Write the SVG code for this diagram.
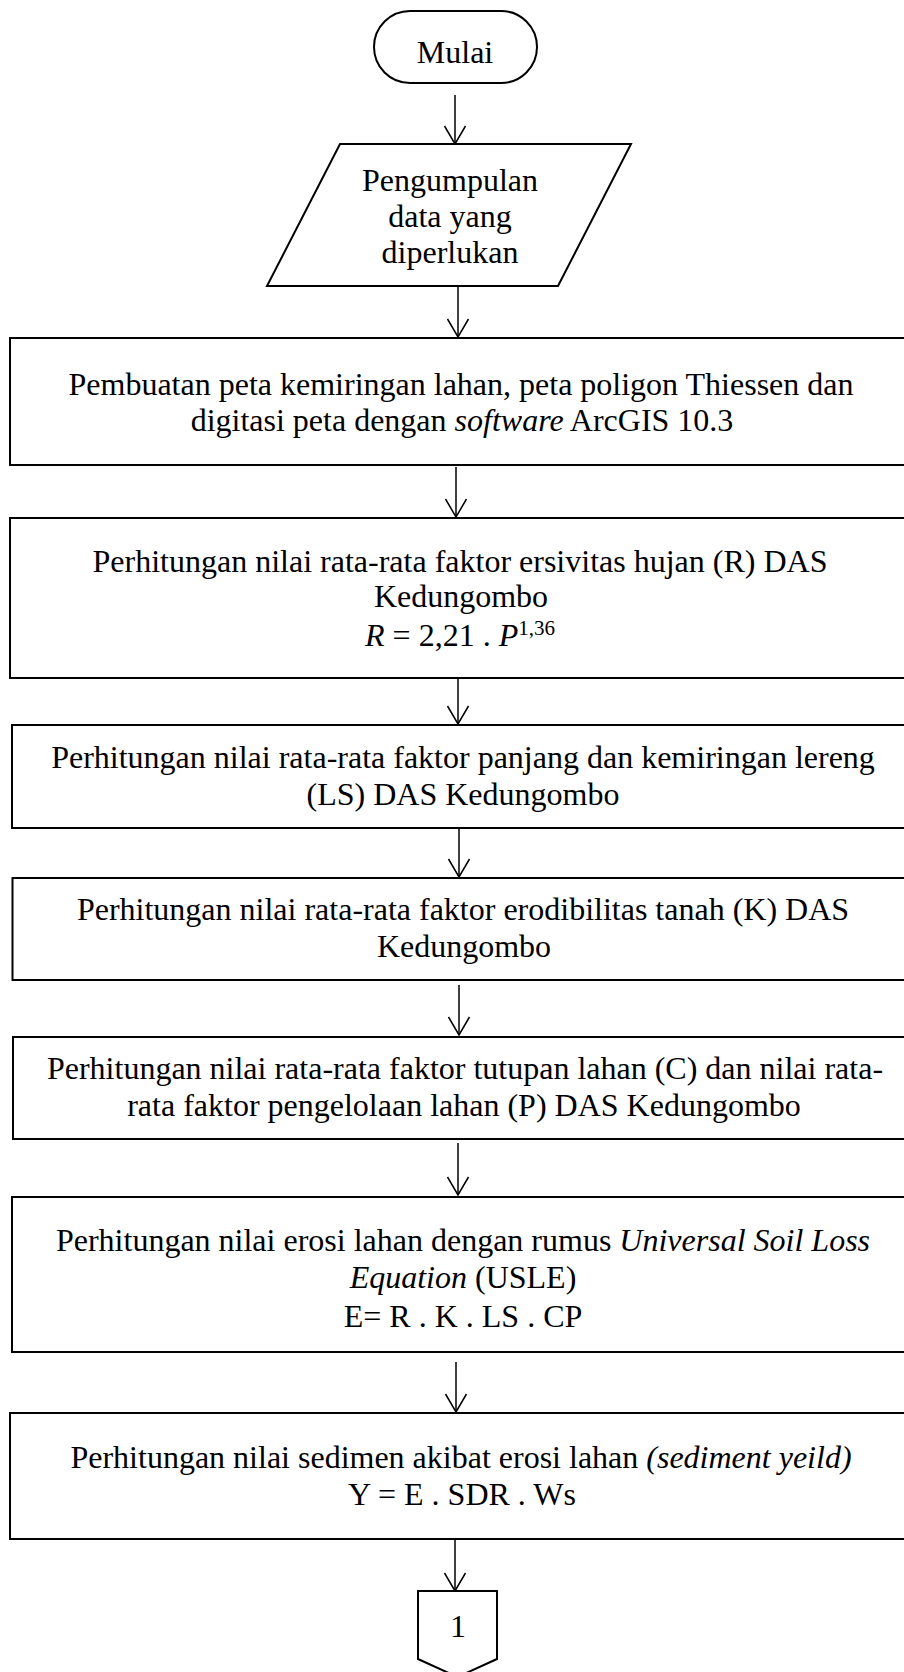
<svg xmlns="http://www.w3.org/2000/svg" width="904" height="1672" viewBox="0 0 904 1672">
<style>
.n{fill:#fff;stroke:#000;stroke-width:2}
.t{font-family:"Liberation Serif","Times New Roman",serif;font-size:32px;fill:#000;text-anchor:middle}
.i{font-style:italic}
.c{stroke:#000;stroke-width:1.5;fill:none}
</style>
<defs>
<marker id="ah" markerWidth="24" markerHeight="24" refX="20" refY="12" orient="auto" markerUnits="userSpaceOnUse" viewBox="0 0 24 24">
<path d="M2,1.5 L20,12 L2,22.5" fill="none" stroke="#000" stroke-width="1.5"/>
</marker>
</defs>
<rect width="904" height="1672" fill="#fff"/>
<g id="connectors">
<path class="c" d="M455,95 V144" marker-end="url(#ah)"/>
<path class="c" d="M458,287 V337" marker-end="url(#ah)"/>
<path class="c" d="M456,467 V517" marker-end="url(#ah)"/>
<path class="c" d="M458,679 V724" marker-end="url(#ah)"/>
<path class="c" d="M459,829 V877" marker-end="url(#ah)"/>
<path class="c" d="M459,985 V1035" marker-end="url(#ah)"/>
<path class="c" d="M458,1143 V1195" marker-end="url(#ah)"/>
<path class="c" d="M456,1362 V1412" marker-end="url(#ah)"/>
<path class="c" d="M455,1540 V1591" marker-end="url(#ah)"/>
</g>
<g id="start">
<rect class="n" x="374" y="11" width="163" height="72" rx="36" ry="36"/>
<text class="t" x="455" y="63">Mulai</text>
</g>
<g id="input">
<polygon class="n" points="340,144 631,144 558,286 267,286"/>
<text class="t" x="450" y="191">Pengumpulan</text>
<text class="t" x="450" y="227">data yang</text>
<text class="t" x="450" y="263">diperlukan</text>
</g>
<g id="p1">
<rect class="n" x="10" y="338" width="910" height="127"/>
<text class="t" x="461" y="395">Pembuatan peta kemiringan lahan, peta poligon Thiessen dan</text>
<text class="t" x="462" y="431">digitasi peta dengan <tspan class="i">software</tspan> ArcGIS 10.3</text>
</g>
<g id="p2">
<rect class="n" x="10" y="518" width="910" height="160"/>
<text class="t" x="460" y="572">Perhitungan nilai rata-rata faktor ersivitas hujan (R) DAS</text>
<text class="t" x="461" y="607">Kedungombo</text>
<text class="t" x="460" y="646"><tspan class="i">R</tspan> = 2,21 . <tspan class="i">P</tspan><tspan font-size="21" dy="-11">1,36</tspan></text>
</g>
<g id="p3">
<rect class="n" x="12" y="725" width="910" height="103"/>
<text class="t" x="463" y="768">Perhitungan nilai rata-rata faktor panjang dan kemiringan lereng</text>
<text class="t" x="463" y="805">(LS) DAS Kedungombo</text>
</g>
<g id="p4">
<rect class="n" x="12.5" y="878" width="910" height="102"/>
<text class="t" x="463" y="920">Perhitungan nilai rata-rata faktor erodibilitas tanah (K) DAS</text>
<text class="t" x="464" y="957">Kedungombo</text>
</g>
<g id="p5">
<rect class="n" x="13" y="1037" width="910" height="102"/>
<text class="t" x="465" y="1079">Perhitungan nilai rata-rata faktor tutupan lahan (C) dan nilai rata-</text>
<text class="t" x="464" y="1116">rata faktor pengelolaan lahan (P) DAS Kedungombo</text>
</g>
<g id="p6">
<rect class="n" x="12" y="1197" width="910" height="155"/>
<text class="t" x="463" y="1251">Perhitungan nilai erosi lahan dengan rumus <tspan class="i">Universal Soil Loss</tspan></text>
<text class="t" x="463" y="1288"><tspan class="i">Equation</tspan> (USLE)</text>
<text class="t" x="463" y="1327">E= R . K . LS . CP</text>
</g>
<g id="p7">
<rect class="n" x="10" y="1413" width="910" height="126"/>
<text class="t" x="461" y="1468">Perhitungan nilai sedimen akibat erosi lahan <tspan class="i">(sediment yeild)</tspan></text>
<text class="t" x="462" y="1505">Y = E . SDR . Ws</text>
</g>
<g id="connector1">
<polygon class="n" points="418,1591 497,1591 497,1659 457.5,1677 418,1659"/>
<text class="t" x="458" y="1637">1</text>
</g>
</svg>
